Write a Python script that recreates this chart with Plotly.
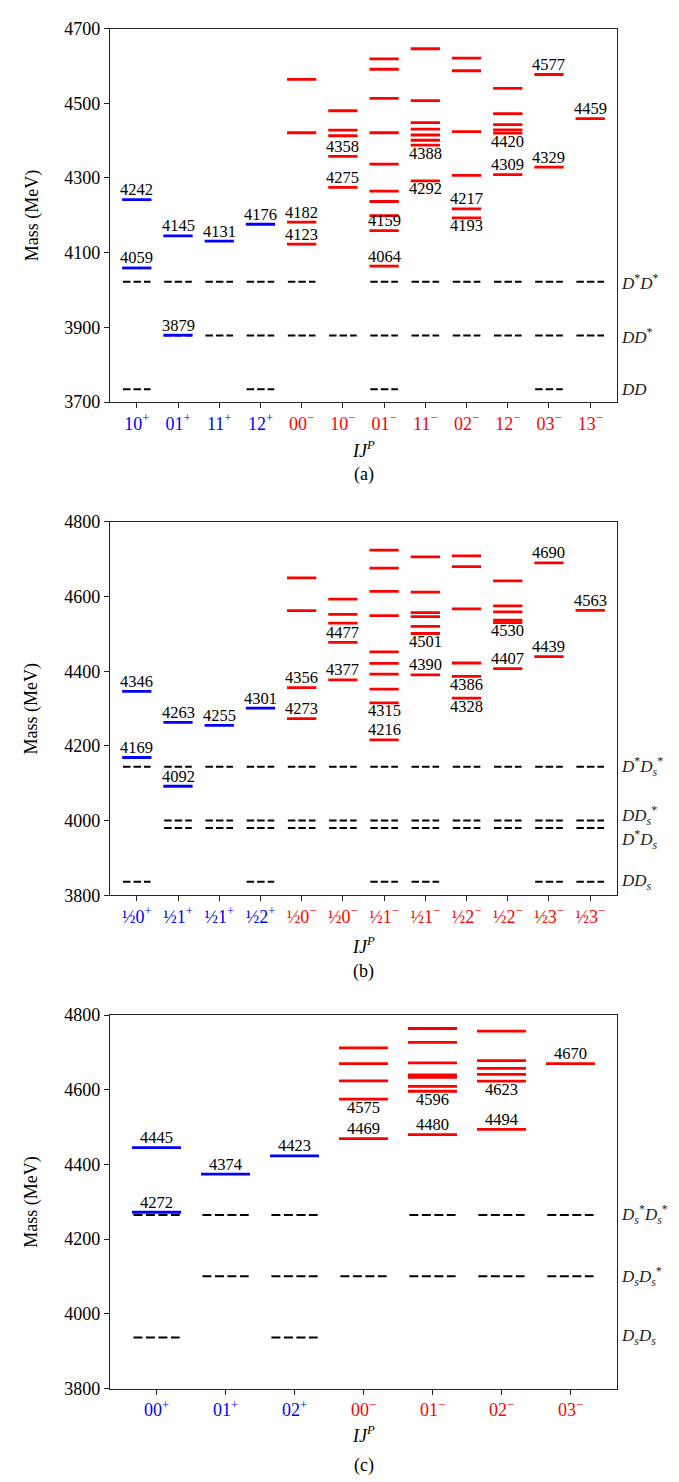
import plotly.graph_objects as go

W, H = 679, 1482
FONT = "Liberation Serif"
BLUE = "#0000ff"
RED = "#ff0000"

# ---------------- Panel (a) ----------------
A_IJ = ["10", "01", "11", "12", "00", "10", "01", "11", "02", "12", "03", "13"]
A_P = ["+", "+", "+", "+", "-", "-", "-", "-", "-", "-", "-", "-"]
A_LEVELS = [
    [4059, 4242],
    [3879, 4145],
    [4131],
    [4176],
    [4123, 4182, 4421, 4564],
    [4275, 4358, 4413, 4428, 4480],
    [4064, 4159, 4199, 4237, 4265, 4337, 4421, 4513, 4591, 4619],
    [4292, 4388, 4401, 4415, 4431, 4448, 4507, 4646],
    [4193, 4217, 4307, 4424, 4587, 4621],
    [4309, 4420, 4429, 4443, 4472, 4540],
    [4329, 4577],
    [4459],
]
A_LABEL_CAT = [0, 0, 1, 1, 2, 3, 4, 4, 5, 5, 6, 6, 7, 7, 8, 8, 9, 9, 10, 10, 11]
A_LABEL_VAL = [4059, 4242, 3879, 4145, 4131, 4176, 4123, 4182, 4275, 4358, 4064, 4159,
               4292, 4388, 4217, 4193, 4309, 4420, 4329, 4577, 4459]
A_LABEL_POS = ["a", "a", "a", "a", "a", "a", "a", "a", "a", "a", "a", "a",
               "b", "b", "a", "b", "a", "b", "a", "a", "a"]
A_THR_NAME = ["<i>DD</i>", "<i>DD</i><sup>*</sup>", "<i>D</i><sup>*</sup><i>D</i><sup>*</sup>"]
A_THR_VAL = [3734, 3878, 4022]
A_THR_CATS = [[0, 3, 6, 10], [1, 2, 3, 4, 5, 6, 7, 8, 9, 10, 11], [0, 1, 2, 3, 4, 6, 7, 8, 9, 10, 11]]
A_THR_SHIFT = [0, 0, 0]

# ---------------- Panel (b) ----------------
B_IJ = ["½0", "½1", "½1", "½2", "½0", "½0", "½1", "½1", "½2", "½2", "½3", "½3"]
B_P = ["+", "+", "+", "+", "-", "-", "-", "-", "-", "-", "-", "-"]
B_LEVELS = [
    [4169, 4346],
    [4092, 4263],
    [4255],
    [4301],
    [4273, 4356, 4562, 4650],
    [4377, 4477, 4529, 4552, 4593],
    [4216, 4315, 4352, 4392, 4421, 4452, 4549, 4614, 4676, 4724],
    [4390, 4501, 4520, 4546, 4557, 4612, 4706],
    [4328, 4386, 4422, 4567, 4680, 4709],
    [4407, 4530, 4537, 4559, 4575, 4642],
    [4439, 4690],
    [4563],
]
B_LABEL_CAT = [0, 0, 1, 1, 2, 3, 4, 4, 5, 5, 6, 6, 7, 7, 8, 8, 9, 9, 10, 10, 11]
B_LABEL_VAL = [4169, 4346, 4092, 4263, 4255, 4301, 4273, 4356, 4377, 4477, 4216, 4315,
               4390, 4501, 4386, 4328, 4407, 4530, 4439, 4690, 4563]
B_LABEL_POS = ["a", "a", "a", "a", "a", "a", "a", "a", "a", "a", "a", "b",
               "a", "b", "b", "b", "a", "b", "a", "a", "a"]
B_THR_NAME = ["<i>DD</i><sub><i>s</i></sub>", "<i>D</i><sup>*</sup><i>D</i><sub><i>s</i></sub>",
              "<i>DD</i><sub><i>s</i></sub><sup>*</sup>",
              "<i>D</i><sup>*</sup><i>D</i><sub><i>s</i></sub><sup>*</sup>"]
B_THR_VAL = [3836, 3980, 4000, 4144]
B_THR_CATS = [[0, 3, 6, 7, 10, 11], list(range(1, 12)), list(range(1, 12)), list(range(12))]
B_THR_SHIFT = [0, -11, 5, 0]

# ---------------- Panel (c) ----------------
C_IJ = ["00", "01", "02", "00", "01", "02", "03"]
C_P = ["+", "+", "+", "-", "-", "-", "-"]
C_LEVELS = [
    [4272, 4445],
    [4374],
    [4423],
    [4469, 4575, 4624, 4670, 4712],
    [4480, 4596, 4609, 4633, 4640, 4672, 4727, 4764],
    [4494, 4623, 4641, 4657, 4678, 4757],
    [4670],
]
C_LABEL_CAT = [0, 0, 1, 2, 3, 3, 4, 4, 5, 5, 6]
C_LABEL_VAL = [4272, 4445, 4374, 4423, 4469, 4575, 4480, 4596, 4494, 4623, 4670]
C_LABEL_POS = ["a", "a", "a", "a", "a", "b", "a", "b", "a", "b", "a"]
C_THR_NAME = ["<i>D</i><sub><i>s</i></sub><i>D</i><sub><i>s</i></sub>",
              "<i>D</i><sub><i>s</i></sub><i>D</i><sub><i>s</i></sub><sup>*</sup>",
              "<i>D</i><sub><i>s</i></sub><sup>*</sup><i>D</i><sub><i>s</i></sub><sup>*</sup>"]
C_THR_VAL = [3937, 4101, 4265]
C_THR_CATS = [[0, 2], [1, 2, 3, 4, 5, 6], [0, 1, 2, 4, 5, 6]]
C_THR_SHIFT = [0, 0, 0]

CAPTIONS = ["(a)", "(b)", "(c)"]


def py(y_px):
    return 1 - y_px / H


XDOM = [102 / W, 609 / W]
PANELS = [
    dict(ij=A_IJ, p=A_P, lev=A_LEVELS, lc=A_LABEL_CAT, lv=A_LABEL_VAL, lp=A_LABEL_POS,
         tn=A_THR_NAME, tv=A_THR_VAL, tc=A_THR_CATS, ts=A_THR_SHIFT,
         yr=[3700, 4700], t0=3700, top=10.7, bot=389.3, dash="7.5px,3px",
         xr=[-0.65, 11.65], title_y=437, cap_y=463),
    dict(ij=B_IJ, p=B_P, lev=B_LEVELS, lc=B_LABEL_CAT, lv=B_LABEL_VAL, lp=B_LABEL_POS,
         tn=B_THR_NAME, tv=B_THR_VAL, tc=B_THR_CATS, ts=B_THR_SHIFT,
         yr=[3800, 4800], t0=3800, top=510.7, bot=889.3, dash="7.5px,3px",
         xr=[-0.65, 11.65], title_y=940, cap_y=967),
    dict(ij=C_IJ, p=C_P, lev=C_LEVELS, lc=C_LABEL_CAT, lv=C_LABEL_VAL, lp=C_LABEL_POS,
         tn=C_THR_NAME, tv=C_THR_VAL, tc=C_THR_CATS, ts=C_THR_SHIFT,
         yr=[3800, 4800], t0=3800, top=1010.7, bot=1389.3, dash="9px,3.5px",
         xr=[-0.675, 6.675], title_y=1436, cap_y=1467),
]

HALF = 0.355
fig = go.Figure()
annotations = []
layout = {}

for k, P in enumerate(PANELS, start=1):
    xa = "x" if k == 1 else f"x{k}"
    ya = "y" if k == 1 else f"y{k}"
    # thresholds
    for val, cats in zip(P["tv"], P["tc"]):
        xs, ys = [], []
        for c in cats:
            xs += [c - HALF + 0.02, c + HALF - 0.02, None]
            ys += [val, val, None]
        fig.add_trace(go.Scatter(x=xs, y=ys, mode="lines", xaxis=xa, yaxis=ya,
                                 line=dict(color="black", width=2, dash=P["dash"]),
                                 hoverinfo="skip", showlegend=False))
    # levels
    for parity, col in (("+", BLUE), ("-", RED)):
        xs, ys = [], []
        for c, (levs, pp) in enumerate(zip(P["lev"], P["p"])):
            if pp != parity:
                continue
            for m in levs:
                xs += [c - HALF, c + HALF, None]
                ys += [m, m, None]
        fig.add_trace(go.Scatter(x=xs, y=ys, mode="lines", xaxis=xa, yaxis=ya,
                                 line=dict(color=col, width=2.8),
                                 hoverinfo="skip", showlegend=False))
    # level labels
    for c, v, pos in zip(P["lc"], P["lv"], P["lp"]):
        annotations.append(dict(
            x=c, y=v, xref=xa, yref=ya, text=str(v), showarrow=False,
            xanchor="center", yanchor="bottom" if pos == "a" else "top",
            yshift=-1.5 if pos == "a" else 3.5,
            font=dict(family=FONT, size=16.5, color="black")))
    # threshold names
    for name, val, sh in zip(P["tn"], P["tv"], P["ts"]):
        annotations.append(dict(
            x=611 / W, y=val, xref="paper", yref=ya, text=name, showarrow=False,
            xanchor="left", yanchor="middle", yshift=sh,
            font=dict(family=FONT, size=17, color="#222")))
    # tick text
    ticktext = []
    for ij, pp in zip(P["ij"], P["p"]):
        col = BLUE if pp == "+" else RED
        sign = "+" if pp == "+" else "−"
        ticktext.append(f"<span style='color:{col}'>{ij}<sup>{sign}</sup></span>")
    n = len(P["ij"])
    layout["xaxis" if k == 1 else f"xaxis{k}"] = dict(
        domain=XDOM, anchor=ya, range=P["xr"], tickmode="array",
        tickvals=list(range(n)), ticktext=ticktext, ticks="outside", ticklen=5,
        tickwidth=1, tickcolor="#222", showline=True, mirror=True, linecolor="#222",
        linewidth=1.2, showgrid=False, zeroline=False,
        tickfont=dict(family=FONT, size=18))
    layout["yaxis" if k == 1 else f"yaxis{k}"] = dict(
        domain=[py(P["bot"]), py(P["top"])], anchor=xa, range=P["yr"],
        tickmode="linear", tick0=P["t0"], dtick=200, ticks="outside", ticklen=5,
        tickwidth=1, tickcolor="#222", showline=True, mirror=True, linecolor="#222",
        linewidth=1.2, showgrid=False, zeroline=False,
        tickfont=dict(family=FONT, size=18, color="black"))
    # axis titles and caption
    annotations.append(dict(
        x=24 / W, y=py((P["top"] + P["bot"]) / 2), xref="paper", yref="paper",
        text="Mass (MeV)", textangle=-90, showarrow=False, xanchor="center",
        yanchor="middle", font=dict(family=FONT, size=18, color="black")))
    annotations.append(dict(
        x=(XDOM[0] + XDOM[1]) / 2, y=py(P["title_y"]), xref="paper", yref="paper",
        text="<i>IJ</i><sup><i>P</i></sup>", showarrow=False, xanchor="center",
        yanchor="middle", font=dict(family=FONT, size=18, color="black")))
    annotations.append(dict(
        x=(XDOM[0] + XDOM[1]) / 2, y=py(P["cap_y"]), xref="paper", yref="paper",
        text=CAPTIONS[k - 1], showarrow=False, xanchor="center",
        yanchor="middle", font=dict(family=FONT, size=18, color="black")))

fig.update_layout(
    width=W, height=H, margin=dict(l=0, r=0, t=0, b=0),
    paper_bgcolor="white", plot_bgcolor="white",
    font=dict(family=FONT, size=16, color="black"),
    annotations=annotations, showlegend=False, **layout)

fig.write_html("out.html")
